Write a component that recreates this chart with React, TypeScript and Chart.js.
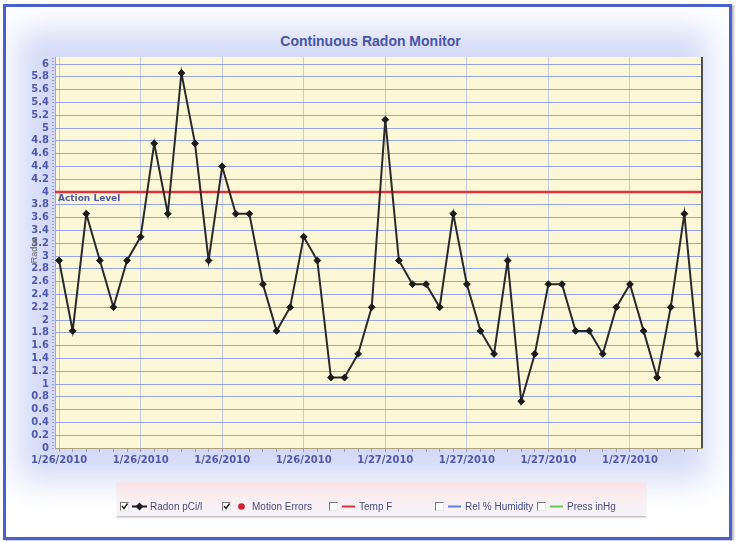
import React, { useEffect, useRef } from 'react';
import { Chart, registerables } from 'chart.js';

Chart.register(...registerables);

const TITLE = 'Continuous Radon Monitor';
const Y_TITLE = 'Radon';
const ACTION_LABEL = 'Action Level';
const ACTION_LEVEL = 4;

// Radon readings (pCi/l), one per sample
const RADON = [
  2.93, 1.83, 3.66, 2.93, 2.2, 2.93, 3.3, 4.76, 3.66, 5.86, 4.76, 2.93,
  4.4, 3.66, 3.66, 2.56, 1.83, 2.2, 3.3, 2.93, 1.1, 1.1, 1.47, 2.2,
  5.13, 2.93, 2.56, 2.56, 2.2, 3.66, 2.56, 1.83, 1.47, 2.93, 0.73, 1.47,
  2.56, 2.56, 1.83, 1.83, 1.47, 2.2, 2.56, 1.83, 1.1, 2.2, 3.66, 1.47,
];

// Date labels shown on the x axis, one every TICK_EVERY samples
const X_TICK_LABELS = [
  '1/26/2010', '1/26/2010', '1/26/2010', '1/26/2010',
  '1/27/2010', '1/27/2010', '1/27/2010', '1/27/2010',
];
const TICK_EVERY = 6;

const Y_MIN = 0;
const Y_MAX = 6.11;
const Y_STEP = 0.2;

const LEGEND_ITEMS = [
  { label: 'Radon pCi/l', checked: true, marker: 'diamond', color: '#1e1e1e' },
  { label: 'Motion Errors', checked: true, marker: 'dot', color: '#d0202a' },
  { label: 'Temp F', checked: false, marker: 'line', color: '#e0303e' },
  { label: 'Rel % Humidity', checked: false, marker: 'line', color: '#5c80e0' },
  { label: 'Press inHg', checked: false, marker: 'line', color: '#6cc45e' },
];
const LEGEND_LEFTS = [120, 222, 329, 435, 537];

const TICK_FONT = { family: "'DejaVu Sans', sans-serif", size: 10, weight: 'bold' as const };
const BLUE_TEXT = '#5058ae';

const decorPlugin = {
  id: 'decor',
  beforeDraw(chart: any) {
    const { ctx, chartArea: a, scales } = chart;
    ctx.save();
    ctx.fillStyle = '#fcf8d7';
    ctx.fillRect(a.left, a.top, a.right - a.left, a.bottom - a.top);
    ctx.restore();
    // minor ticks on y axis
    const y = scales.y;
    ctx.save();
    ctx.strokeStyle = '#9aa0c8';
    ctx.lineWidth = 1;
    for (let v = Y_MIN; v <= Y_MAX + 1e-9; v += Y_STEP / 4) {
      const py = Math.round(y.getPixelForValue(v)) + 0.5;
      ctx.beginPath();
      ctx.moveTo(a.left - 3, py);
      ctx.lineTo(a.left - 1, py);
      ctx.stroke();
    }
    ctx.restore();
  },
  beforeDatasetsDraw(chart: any) {
    const { ctx, chartArea: a, scales } = chart;
    const py = scales.y.getPixelForValue(ACTION_LEVEL);
    ctx.save();
    ctx.strokeStyle = '#e2303c';
    ctx.lineWidth = 2.5;
    ctx.beginPath();
    ctx.moveTo(a.left, py);
    ctx.lineTo(a.right, py);
    ctx.stroke();
    ctx.font = "bold 9px 'DejaVu Sans', sans-serif";
    ctx.fillStyle = BLUE_TEXT;
    ctx.textAlign = 'left';
    ctx.textBaseline = 'middle';
    ctx.fillText(ACTION_LABEL, a.left + 3, py + 7);
    ctx.restore();
  },
  afterDraw(chart: any) {
    const { ctx, chartArea: a } = chart;
    ctx.save();
    ctx.strokeStyle = '#4e4e4e';
    ctx.lineWidth = 2;
    ctx.beginPath();
    ctx.moveTo(a.right, a.top);
    ctx.lineTo(a.right, a.bottom);
    ctx.stroke();
    // y axis title (partly overlapping the tick labels, as in the original)
    ctx.translate(35, 250);
    ctx.rotate(-Math.PI / 2);
    ctx.font = "9px 'Liberation Sans', sans-serif";
    ctx.fillStyle = '#666666';
    ctx.textAlign = 'center';
    ctx.textBaseline = 'middle';
    ctx.fillText(Y_TITLE, 0, 0);
    ctx.restore();
  },
};

function Marker({ kind, color }: { kind: string; color: string }) {
  if (kind === 'diamond') {
    return (
      <svg width="15" height="9" style={{ display: 'block' }}>
        <line x1="0" y1="4.5" x2="15" y2="4.5" stroke={color} strokeWidth="2" />
        <polygon points="7.5,0.5 11.5,4.5 7.5,8.5 3.5,4.5" fill={color} />
      </svg>
    );
  }
  if (kind === 'dot') {
    return (
      <svg width="15" height="9" style={{ display: 'block' }}>
        <circle cx="7.5" cy="4.5" r="3.3" fill={color} />
      </svg>
    );
  }
  return (
    <svg width="15" height="9" style={{ display: 'block' }}>
      <line x1="1" y1="4.5" x2="14" y2="4.5" stroke={color} strokeWidth="2" />
    </svg>
  );
}

function CheckBox({ checked }: { checked: boolean }) {
  return (
    <div
      style={{
        width: 9,
        height: 9,
        boxSizing: 'border-box',
        borderTop: '1px solid #7a7a7a',
        borderLeft: '1px solid #7a7a7a',
        borderRight: '1px solid #e6e6e6',
        borderBottom: '1px solid #e6e6e6',
        background: '#ffffff',
        position: 'relative',
      }}
    >
      {checked && (
        <svg width="9" height="9" style={{ position: 'absolute', left: -1, top: -1 }}>
          <polyline points="2,4 4,6.5 7.5,1.5" fill="none" stroke="#222" strokeWidth="1.4" />
        </svg>
      )}
    </div>
  );
}

export default function App() {
  const canvasRef = useRef<HTMLCanvasElement | null>(null);

  useEffect(() => {
    const canvas = canvasRef.current;
    if (!canvas) return;
    const chart = new Chart(canvas, {
      type: 'line',
      data: {
        datasets: [
          {
            label: LEGEND_ITEMS[0].label,
            data: RADON.map((v, i) => ({ x: i, y: v })),
            borderColor: '#2a2a2a',
            borderWidth: 2,
            pointStyle: 'rectRot',
            pointRadius: 3.4,
            pointBackgroundColor: '#1c1c1c',
            pointBorderColor: '#1c1c1c',
            pointBorderWidth: 1,
            tension: 0,
          },
        ],
      },
      options: {
        animation: false,
        responsive: false,
        devicePixelRatio: 1,
        layout: { padding: { left: 8, right: 35, top: 57, bottom: 63 } },
        plugins: {
          legend: { display: false },
          tooltip: { enabled: false },
          title: { display: false },
        },
        scales: {
          x: {
            type: 'linear',
            min: -0.3,
            max: RADON.length - 0.7,
            afterFit(scale: any) {
              scale.height = 30;
            },
            afterBuildTicks(scale: any) {
              scale.ticks = RADON.map((_, i) => ({ value: i }));
            },
            ticks: {
              autoSkip: false,
              maxRotation: 0,
              minRotation: 0,
              padding: 2,
              color: BLUE_TEXT,
              font: TICK_FONT,
              callback: (v: any) =>
                Number(v) % TICK_EVERY === 0 ? X_TICK_LABELS[Number(v) / TICK_EVERY] : '',
            },
            grid: {
              color: (c: any) =>
                c.tick && c.tick.value % TICK_EVERY === 0 ? '#c2cae8' : 'rgba(0,0,0,0)',
              tickColor: '#959cc4',
              tickLength: 4,
              drawTicks: true,
            },
            border: { color: '#aaa37e', width: 1 },
          },
          y: {
            min: Y_MIN,
            max: Y_MAX,
            afterFit(scale: any) {
              scale.width = 47;
            },
            ticks: {
              stepSize: Y_STEP,
              includeBounds: false,
              autoSkip: false,
              padding: 6,
              color: BLUE_TEXT,
              font: TICK_FONT,
              callback: (v: any) => String(Math.round(Number(v) * 10) / 10),
            },
            grid: { color: '#97a3e2', drawTicks: false },
            border: { color: '#a4a8c4', width: 1 },
          },
        },
      } as any,
      plugins: [decorPlugin],
    });
    return () => chart.destroy();
  }, []);

  return (
    <div
      style={{
        position: 'absolute',
        left: 0,
        top: 0,
        width: 737,
        height: 541,
        background: '#ffffff',
        overflow: 'hidden',
        fontFamily: "'Liberation Sans', Arial, sans-serif",
      }}
    >
      {/* blue haze around the plot */}
      <div
        style={{
          position: 'absolute',
          left: 18,
          top: 30,
          width: 690,
          height: 450,
          background: 'rgba(200,208,244,0.8)',
          filter: 'blur(16px)',
        }}
      />
      {/* outer frame */}
      <div
        style={{
          position: 'absolute',
          left: 3,
          top: 4,
          width: 729,
          height: 536,
          boxSizing: 'border-box',
          border: '3px solid #4a60d0',
          boxShadow: '2px 1px 2px rgba(60,60,60,0.35)',
        }}
      />
      <div
        style={{
          position: 'absolute',
          left: 0,
          top: 32,
          width: 737,
          textAlign: 'center',
          paddingLeft: 2,
          fontSize: 14,
          fontWeight: 'bold',
          color: '#4a54a6',
          lineHeight: '18px',
        }}
      >
        {TITLE}
      </div>
      <canvas
        ref={canvasRef}
        width={737}
        height={541}
        style={{ position: 'absolute', left: 0, top: 0, width: 737, height: 541 }}
      />
      {/* legend */}
      <div
        style={{
          position: 'absolute',
          left: 117,
          top: 482,
          width: 529,
          height: 34,
          background: 'linear-gradient(#f8e3e7 0%, #faeef1 45%, #f6f3f8 100%)',
          borderBottom: '1px solid #c4c4cc',
          boxShadow: '0 1px 1px rgba(120,120,140,0.25)',
        }}
      />
      {LEGEND_ITEMS.map((it, i) => (
        <div
          key={it.label}
          style={{
            position: 'absolute',
            left: LEGEND_LEFTS[i],
            top: 500,
            height: 13,
            display: 'flex',
            alignItems: 'center',
            gap: 3,
            fontSize: 10,
            color: '#464c86',
            whiteSpace: 'nowrap',
          }}
        >
          <CheckBox checked={it.checked} />
          <Marker kind={it.marker} color={it.color} />
          <span>{it.label}</span>
        </div>
      ))}
    </div>
  );
}
